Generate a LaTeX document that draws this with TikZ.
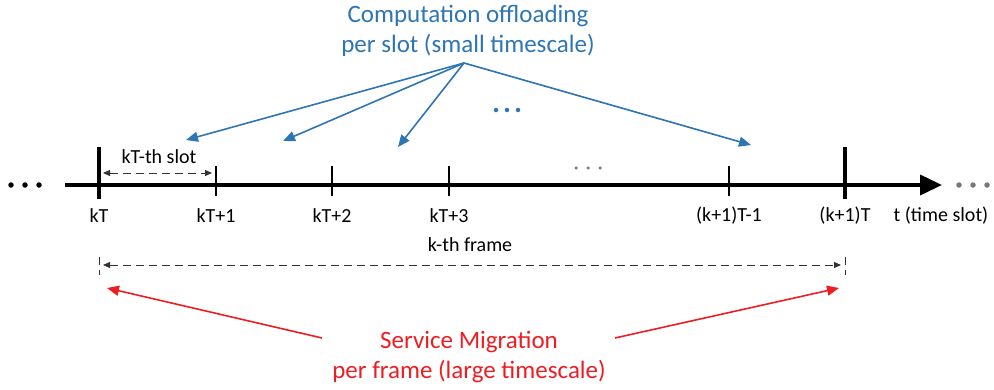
\documentclass[tikz,border=0pt]{standalone}
\usepackage{fontspec}
\setmainfont{Carlito}
\usetikzlibrary{arrows.meta}
\definecolor{myblue}{RGB}{46,117,182}
\definecolor{myred}{RGB}{236,30,36}
\definecolor{mygray}{RGB}{120,120,120}
\begin{document}
\begin{tikzpicture}[x=1pt,y=-1pt,
  lbl/.style={inner sep=0pt,font=\fontsize{20}{22}\selectfont},
  ttl/.style={inner sep=0pt,align=center,font=\fontsize{25}{30}\selectfont},
  bluearr/.style={myblue,line width=1.6pt,-{Triangle[width=10pt,length=12pt]}},
  redarr/.style={myred,line width=1.6pt,-{Triangle[width=10pt,length=12pt]}},
  dashln/.style={dashed,dash pattern=on 8pt off 5pt,line width=1pt,black!80},
  dasharr/.style={dashln,{Triangle[width=6pt,length=7pt]}-{Triangle[width=6pt,length=7pt]}},
  bigtick/.style={line width=4pt},
  smalltick/.style={line width=2.2pt},
  dot/.style={circle,fill,inner sep=0pt,minimum size=5.5pt}]
\useasboundingbox (0,0) rectangle (994,389);
% axis
\coordinate (a0) at (65,185);
\coordinate (a1) at (942,185);
\draw[line width=3.8pt,-{Triangle[width=20pt,length=22pt]}] (a0) -- (a1);
% dots
\foreach \x [count=\i] in {11,25,39} \node[dot] (ld\i) at (\x,185) {};
\foreach \x [count=\i] in {959,973,987} \node[dot,fill=mygray] (rd\i) at (\x,185) {};
\foreach \x [count=\i] in {576,588,600} \node[dot,fill=mygray,minimum size=3.5pt] (md\i) at (\x,168) {};
\foreach \x [count=\i] in {496,507,518} \node[dot,fill=myblue,minimum size=4.5pt] (bd\i) at (\x,110) {};
% ticks
\coordinate (t0a) at (99,147); \coordinate (t0b) at (99,199);
\coordinate (t7a) at (845,147); \coordinate (t7b) at (845,199);
\draw[bigtick] (t0a) -- (t0b);
\draw[bigtick] (t7a) -- (t7b);
\foreach \x [count=\i] in {216,332,449,729} {
  \coordinate (s\i a) at (\x,166); \coordinate (s\i b) at (\x,196);
  \draw[smalltick] (s\i a) -- (s\i b);
}
% labels
\node[lbl] (l0) at (99,216) {kT};
\node[lbl] (l1) at (216,216) {kT+1};
\node[lbl] (l2) at (332,216) {kT+2};
\node[lbl] (l3) at (449,216) {kT+3};
\node[lbl] (l4) at (729,216) {(k+1)T-1};
\node[lbl] (l5) at (845,216) {(k+1)T};
\node[lbl] (l6) at (941,216) {t (time slot)};
% slot
\node[lbl] (slot) at (159,157) {kT-th slot};
\coordinate (sa) at (103,173); \coordinate (sb) at (212,173);
\draw[dasharr] (sa) -- (sb);
% frame
\node[lbl] (frame) at (470,245) {k-th frame};
\coordinate (fa1) at (99,257); \coordinate (fa2) at (99,275);
\coordinate (fb1) at (845,257); \coordinate (fb2) at (845,275);
\draw[dashln] (fa1) -- (fa2);
\draw[dashln] (fb1) -- (fb2);
\coordinate (fa) at (103,265); \coordinate (fb) at (841,265);
\draw[dasharr] (fa) -- (fb);
% blue title and arrows
\node[ttl,text=myblue] (comp) at (468,31) {Computation offloading\\per slot (small timescale)};
\coordinate (bo) at (464,63);
\coordinate (b1) at (186,140);
\coordinate (b2) at (283,141);
\coordinate (b3) at (398,147);
\coordinate (b4) at (751,145);
\foreach \i in {1,2,3,4} \draw[bluearr] (bo) -- (b\i);
% red title and arrows
\node[ttl,text=myred] (serv) at (469,357) {Service Migration\\per frame (large timescale)};
\coordinate (ro1) at (322,338); \coordinate (rt1) at (107,288);
\coordinate (ro2) at (615,338); \coordinate (rt2) at (839,288);
\draw[redarr] (ro1) -- (rt1);
\draw[redarr] (ro2) -- (rt2);
\end{tikzpicture}
\end{document}
